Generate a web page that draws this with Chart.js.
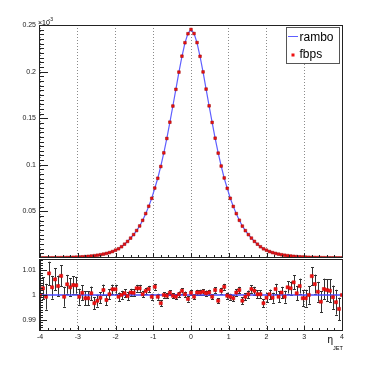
<!DOCTYPE html>
<html>
<head>
<meta charset="utf-8">
<script src="https://cdn.jsdelivr.net/npm/chart.js@4.4.1/dist/chart.umd.min.js"></script>
<style>
  html, body { margin: 0; padding: 0; background: #fff; }
  #wrap { position: relative; width: 382px; height: 369px; }
  #topPanel { position: absolute; left: 0; top: 0; }
  #ratioPanel { position: absolute; left: 0; top: 258px; }
</style>
</head>
<body>
<div id="wrap">
  <canvas id="topPanel" width="382" height="258"></canvas>
  <canvas id="ratioPanel" width="382" height="111"></canvas>
</div>
<script>
// bin centres of eta_JET
const etaBins = [
    -4.00, -3.92, -3.84, -3.76, -3.68, -3.60, -3.52, -3.44, -3.36, -3.28,
    -3.20, -3.12, -3.04, -2.96, -2.88, -2.80, -2.72, -2.64, -2.56, -2.48,
    -2.40, -2.32, -2.24, -2.16, -2.08, -2.00, -1.92, -1.84, -1.76, -1.68,
    -1.60, -1.52, -1.44, -1.36, -1.28, -1.20, -1.12, -1.04, -0.96, -0.88,
    -0.80, -0.72, -0.64, -0.56, -0.48, -0.40, -0.32, -0.24, -0.16, -0.08,
    0.00,
    0.08, 0.16, 0.24, 0.32, 0.40, 0.48, 0.56, 0.64, 0.72, 0.80,
    0.88, 0.96, 1.04, 1.12, 1.20, 1.28, 1.36, 1.44, 1.52, 1.60,
    1.68, 1.76, 1.84, 1.92, 2.00, 2.08, 2.16, 2.24, 2.32, 2.40,
    2.48, 2.56, 2.64, 2.72, 2.80, 2.88, 2.96, 3.04, 3.12, 3.20,
    3.28, 3.36, 3.44, 3.52, 3.60, 3.68, 3.76, 3.84, 3.92, 4.00
];

// rambo distribution, in units of 1e-3
const rambo = [
    0.00011, 0.00014, 0.00016, 0.00019, 0.00023, 0.00028, 0.00033, 0.00039, 0.00046, 0.00055,
    0.00065, 0.00077, 0.00091, 0.00108, 0.00128, 0.00151, 0.00179, 0.00212, 0.00251, 0.00297,
    0.00351, 0.00415, 0.00490, 0.00579, 0.00690, 0.00840, 0.00990, 0.01210, 0.01480, 0.01780,
    0.02130, 0.02510, 0.02940, 0.03430, 0.04040, 0.04760, 0.05540, 0.06410, 0.07480, 0.08560,
    0.09850, 0.11280, 0.12830, 0.14560, 0.16310, 0.18110, 0.19940, 0.21620, 0.23090, 0.24100,
    0.24500,
    0.24100, 0.23090, 0.21620, 0.19940, 0.18110, 0.16310, 0.14560, 0.12830, 0.11280, 0.09850,
    0.08560, 0.07480, 0.06410, 0.05540, 0.04760, 0.04040, 0.03430, 0.02940, 0.02510, 0.02130,
    0.01780, 0.01480, 0.01210, 0.00990, 0.00840, 0.00690, 0.00579, 0.00490, 0.00415, 0.00351,
    0.00297, 0.00251, 0.00212, 0.00179, 0.00151, 0.00128, 0.00108, 0.00091, 0.00077, 0.00065,
    0.00055, 0.00046, 0.00039, 0.00033, 0.00028, 0.00023, 0.00019, 0.00016, 0.00014, 0.00011
];

// fbps / rambo
const ratio = [
    1.0000, 1.0027, 0.9993, 1.0087, 1.0031, 1.0063, 1.0036, 1.0077, 0.9993, 1.0043,
    1.0031, 1.0040, 1.0039, 0.9993, 1.0009, 0.9987, 0.9987, 1.0007, 0.9967, 0.9977,
    0.9989, 1.0020, 0.9980, 1.0003, 1.0023, 1.0023, 0.9993, 1.0000, 1.0007, 0.9996,
    1.0010, 1.0009, 1.0027, 1.0027, 1.0003, 1.0016, 1.0024, 0.9993, 1.0033, 0.9993,
    0.9967, 1.0000, 0.9997, 1.0009, 0.9997, 0.9993, 1.0003, 1.0017, 1.0003, 0.9984,
    1.0009,
    0.9993, 1.0010, 1.0010, 1.0013, 1.0007, 1.0010, 0.9993, 1.0020, 0.9977, 1.0017,
    1.0033, 0.9997, 0.9993, 0.9987, 1.0010, 1.0020, 0.9977, 0.9993, 1.0003, 1.0024,
    1.0017, 1.0003, 1.0003, 0.9967, 0.9989, 1.0003, 0.9989, 1.0024, 0.9993, 1.0010,
    0.9993, 1.0031, 1.0027, 1.0051, 1.0007, 1.0036, 0.9987, 0.9987, 1.0000, 1.0076,
    1.0044, 1.0013, 0.9973, 1.0024, 1.0020, 1.0017, 0.9991, 0.9971, 0.9944, 1.0000
];

const ratioErr = [
    0.0200, 0.0045, 0.0052, 0.0047, 0.0046, 0.0044, 0.0042, 0.0042, 0.0040, 0.0038,
    0.0036, 0.0035, 0.0034, 0.0032, 0.0030, 0.0029, 0.0028, 0.0027, 0.0025, 0.0024,
    0.0023, 0.0022, 0.0021, 0.0020, 0.0019, 0.0018, 0.0017, 0.0017, 0.0016, 0.0016,
    0.0015, 0.0015, 0.0014, 0.0014, 0.0013, 0.0013, 0.0013, 0.0012, 0.0012, 0.0012,
    0.0012, 0.0011, 0.0011, 0.0011, 0.0011, 0.0011, 0.0011, 0.0011, 0.0011, 0.0011,
    0.0011,
    0.0011, 0.0011, 0.0011, 0.0011, 0.0011, 0.0011, 0.0011, 0.0011, 0.0011, 0.0012,
    0.0012, 0.0012, 0.0012, 0.0013, 0.0013, 0.0013, 0.0014, 0.0014, 0.0015, 0.0015,
    0.0016, 0.0016, 0.0017, 0.0017, 0.0018, 0.0019, 0.0020, 0.0021, 0.0022, 0.0023,
    0.0024, 0.0025, 0.0027, 0.0028, 0.0029, 0.0030, 0.0032, 0.0034, 0.0035, 0.0036,
    0.0038, 0.0040, 0.0042, 0.0042, 0.0044, 0.0046, 0.0047, 0.0050, 0.0045, 0.0200
];

const fbps = rambo.map((v, i) => v * ratio[i]);

const gridEta = [-4, -3, -2, -1, 0, 1, 2, 3, 4];
const etaLabels = ['-4', '-3', '-2', '-1', '0', '1', '2', '3', '4'];
const topTicks = [0.05, 0.1, 0.15, 0.2, 0.25];
const topLabels = ['0.05', '0.1', '0.15', '0.2', '0.25'];
const ratioTicks = [0.99, 1, 1.01];
const ratioLabels = ['0.99', '1', '1.01'];
const refEta = [-4, 4];
const refRatio = [1, 1];

const FONT = 'Liberation Sans';
const RAMBO_COL = '#5f5fff';
const FBPS_COL = '#ee1111';

// ROOT style frame with ticks drawn on the inside
function drawRootFrame(chart, o) {
    const { ctx, chartArea: a, scales: { x, y } } = chart;
    ctx.save();
    ctx.strokeStyle = '#222';
    ctx.lineWidth = 1;
    ctx.beginPath();
    const i0 = Math.ceil(y.min / o.yMinor - 1e-6), i1 = Math.floor(y.max / o.yMinor + 1e-6);
    for (let i = i0; i <= i1; i++) {
        const v = i * o.yMinor;
        const major = Math.abs(v / o.yMajor - Math.round(v / o.yMajor)) < 1e-6;
        const py = Math.round(y.getPixelForValue(v)) + 0.5;
        ctx.moveTo(a.left, py);
        ctx.lineTo(a.left + (major ? o.yMajLen : o.yMinLen), py);
    }
    for (let i = -20; i <= 20; i++) {
        const px = Math.round(x.getPixelForValue(i * 0.2)) + 0.5;
        ctx.moveTo(px, a.bottom);
        ctx.lineTo(px, a.bottom - (i % 5 === 0 ? o.xMajLen : o.xMinLen));
    }
    ctx.stroke();
    ctx.strokeRect(a.left - 0.5, a.top + 0.5, a.right - a.left + 1, a.bottom - a.top - 1);
    ctx.restore();
}

function fixWidth(w) {
    return s => { s.width = w; s.paddingTop = 0; s.paddingBottom = 0; };
}
function fixHeight(h) {
    return s => { s.height = h; s.paddingLeft = 0; s.paddingRight = 0; };
}

const topDecor = {
    id: 'topDecor',
    afterDraw(chart) {
        drawRootFrame(chart, { yMinor: 0.005, yMajor: 0.05, yMajLen: 8, yMinLen: 4, xMajLen: 5, xMinLen: 3 });
        const ctx = chart.ctx;
        const ds = chart.data.datasets;
        ctx.save();
        // legend box
        ctx.fillStyle = '#fff';
        ctx.fillRect(286, 27, 54, 37);
        ctx.strokeStyle = '#555';
        ctx.lineWidth = 1;
        ctx.strokeRect(286.5, 27.5, 53, 36);
        ctx.strokeStyle = RAMBO_COL;
        ctx.beginPath();
        ctx.moveTo(288, 36.5);
        ctx.lineTo(298, 36.5);
        ctx.stroke();
        ctx.fillStyle = FBPS_COL;
        ctx.fillRect(291.5, 53.5, 3, 3);
        ctx.fillStyle = '#000';
        ctx.font = '12px "' + FONT + '"';
        ctx.textBaseline = 'alphabetic';
        ctx.fillText(ds[0].label, 299.5, 40.5);
        ctx.fillText(ds[1].label, 299.5, 57.5);
        // exponent
        ctx.font = '7px "' + FONT + '"';
        ctx.fillText('\u00d710', 38, 24.5);
        ctx.font = '5px "' + FONT + '"';
        ctx.fillText('-3', 48.5, 21);
        ctx.restore();
    }
};

const ratioDecor = {
    id: 'ratioDecor',
    beforeDatasetsDraw(chart) {
        const { ctx, chartArea: a, scales: { x, y } } = chart;
        ctx.save();
        ctx.beginPath();
        ctx.rect(a.left, a.top, a.right - a.left, a.bottom - a.top);
        ctx.clip();
        ctx.strokeStyle = '#333';
        ctx.lineWidth = 1;
        ctx.beginPath();
        etaBins.forEach((eta, i) => {
            const px = Math.round(x.getPixelForValue(eta)) + 0.5;
            const yHi = y.getPixelForValue(ratio[i] + ratioErr[i]);
            const yLo = y.getPixelForValue(ratio[i] - ratioErr[i]);
            ctx.moveTo(px, yHi);
            ctx.lineTo(px, yLo);
            ctx.moveTo(px - 1.5, Math.round(yHi) + 0.5);
            ctx.lineTo(px + 1.5, Math.round(yHi) + 0.5);
            ctx.moveTo(px - 1.5, Math.round(yLo) + 0.5);
            ctx.lineTo(px + 1.5, Math.round(yLo) + 0.5);
        });
        ctx.stroke();
        ctx.restore();
    },
    afterDraw(chart) {
        drawRootFrame(chart, { yMinor: 0.001, yMajor: 0.01, yMajLen: 7, yMinLen: 3, xMajLen: 5, xMinLen: 3 });
        const ctx = chart.ctx;
        ctx.save();
        ctx.fillStyle = '#000';
        ctx.font = '10px "' + FONT + '"';
        ctx.fillText('\u03b7', 327.5, 84.5);
        ctx.font = '5.5px "' + FONT + '"';
        ctx.fillText('JET', 333, 91.5);
        ctx.restore();
    }
};

const tickFont = { family: FONT, size: 7 };

const topChart = new Chart(document.getElementById('topPanel'), {
    type: 'line',
    data: {
        datasets: [
            {
                label: 'rambo',
                data: etaBins.map((e, i) => ({ x: e, y: rambo[i] })),
                borderColor: RAMBO_COL,
                borderWidth: 1.2,
                pointRadius: 0,
                fill: false,
                tension: 0,
                order: 2
            },
            {
                label: 'fbps',
                data: etaBins.map((e, i) => ({ x: e, y: fbps[i] })),
                showLine: false,
                pointStyle: 'rect',
                pointRadius: 1.9,
                backgroundColor: FBPS_COL,
                borderColor: '#990000',
                borderWidth: 0.5,
                order: 1
            }
        ]
    },
    options: {
        responsive: false,
        animation: false,
        devicePixelRatio: 1,
        layout: { autoPadding: false, padding: { top: 25, right: 40, left: 0, bottom: 0 } },
        plugins: { legend: { display: false }, tooltip: { enabled: false } },
        scales: {
            x: {
                type: 'linear', min: -4, max: 4,
                afterBuildTicks: s => { s.ticks = gridEta.map(v => ({ value: v })); },
                ticks: { display: false },
                grid: { color: '#8a8a8a', lineWidth: 1, drawTicks: false },
                border: { display: false, dash: [1, 2] },
                afterFit: fixHeight(0)
            },
            y: {
                min: 0, max: 0.25,
                afterBuildTicks: s => { s.ticks = topTicks.map(v => ({ value: v })); },
                ticks: {
                    font: tickFont, color: '#222', padding: 4, autoSkip: false,
                    callback: (v, i) => topLabels[i]
                },
                grid: { display: false, drawTicks: false },
                border: { display: false },
                afterFit: fixWidth(40)
            }
        }
    },
    plugins: [topDecor]
});

const ratioChart = new Chart(document.getElementById('ratioPanel'), {
    type: 'line',
    data: {
        datasets: [
            {
                label: 'reference',
                data: refEta.map((e, i) => ({ x: e, y: refRatio[i] })),
                borderColor: '#4a4aff',
                borderWidth: 1.6,
                pointRadius: 0,
                fill: false,
                order: 2
            },
            {
                label: 'fbps / rambo',
                data: etaBins.map((e, i) => ({ x: e, y: ratio[i] })),
                showLine: false,
                pointStyle: 'rect',
                pointRadius: 2.2,
                backgroundColor: FBPS_COL,
                borderColor: '#cc0000',
                borderWidth: 0.5,
                order: 1
            }
        ]
    },
    options: {
        responsive: false,
        animation: false,
        devicePixelRatio: 1,
        layout: { autoPadding: false, padding: { top: 1, right: 40, left: 0, bottom: 0 } },
        plugins: { legend: { display: false }, tooltip: { enabled: false } },
        scales: {
            x: {
                type: 'linear', min: -4, max: 4,
                afterBuildTicks: s => { s.ticks = gridEta.map(v => ({ value: v })); },
                ticks: {
                    font: tickFont, color: '#222', padding: 2, autoSkip: false, maxRotation: 0,
                    callback: (v, i) => etaLabels[i]
                },
                grid: { color: '#8a8a8a', lineWidth: 1, drawTicks: false },
                border: { display: false, dash: [1, 2] },
                afterFit: fixHeight(38)
            },
            y: {
                min: 0.9855, max: 1.0145,
                afterBuildTicks: s => { s.ticks = ratioTicks.map(v => ({ value: v })); },
                ticks: {
                    font: tickFont, color: '#222', padding: 4, autoSkip: false,
                    callback: (v, i) => ratioLabels[i]
                },
                grid: { display: false, drawTicks: false },
                border: { display: false },
                afterFit: fixWidth(40)
            }
        }
    },
    plugins: [ratioDecor]
});
</script>
</body>
</html>
